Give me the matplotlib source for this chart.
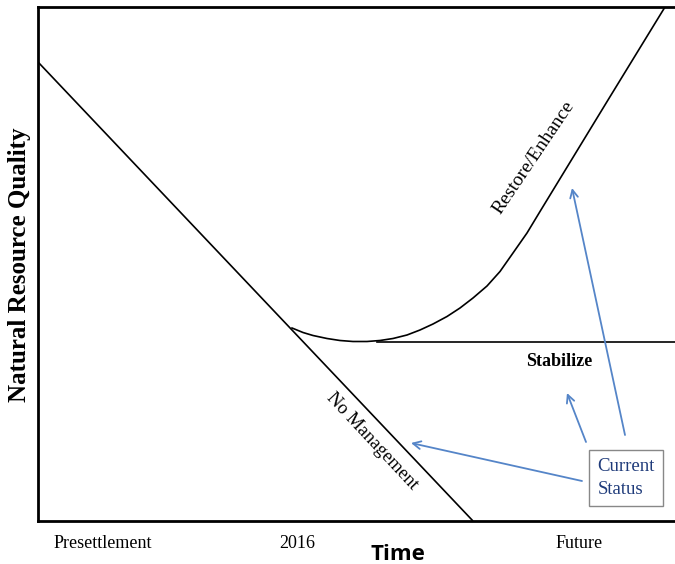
import matplotlib
matplotlib.use('Agg')
from matplotlib import pyplot as plt

# schematic drawn in image-like units (x right, y down)
no_mgmt_x = [38, 473]
no_mgmt_y = [62, 521]

restore_x = [292, 303, 313, 327, 340, 353, 367, 380, 393, 407, 420, 433, 447,
             460, 473, 487, 500, 513, 527, 540, 608, 665]
restore_y = [328, 332.5, 335.5, 338.5, 340.5, 341.5, 341.5, 340.5, 338.5, 335,
             330, 324, 316.5, 308, 298, 286, 271.5, 253, 233, 211.5, 100, 7]

stable_x = [377, 675]
stable_y = [342, 342]

tick_pos = [103, 297, 579]
tick_labels = ['Presettlement', '2016', 'Future']

# arrows from the Current Status box: (tail, head)
arrow_tails = [(582, 481), (586, 442), (625, 435)]
arrow_heads = [(411, 443), (567, 393), (572, 188)]

serif = 'Liberation Serif'
blue = '#5585c8'

fig = plt.figure(figsize=(6.75, 5.64), dpi=100)
ax = fig.add_axes([38/675, 43/564, 1 - 38/675, (521-7)/564])
ax.set_xlim(38, 675)
ax.set_ylim(521, 7)

ax.plot(no_mgmt_x, no_mgmt_y, color='black', lw=1.2, solid_capstyle='butt')
ax.plot(restore_x, restore_y, color='black', lw=1.2, solid_joinstyle='round')
ax.plot(stable_x, stable_y, color='black', lw=1.2)

for (tx, ty), (hx, hy) in zip(arrow_tails, arrow_heads):
    ax.annotate('', xy=(hx, hy), xytext=(tx, ty),
                arrowprops=dict(arrowstyle='->', color=blue, lw=1.3,
                                mutation_scale=14, shrinkA=0, shrinkB=0))

ax.text(626, 478, 'Current\nStatus', family=serif, fontsize=13.5, color='#1f3b7a',
        ha='center', va='center', multialignment='left', linespacing=1.4,
        bbox=dict(boxstyle='square,pad=0.45', fc='white', ec='#888888', lw=1))

ax.text(534, 158, 'Restore/Enhance', family=serif, fontsize=14, rotation=56,
        ha='center', va='center', rotation_mode='anchor')
ax.text(559, 362, 'Stabilize', family=serif, fontsize=13, fontweight='bold',
        ha='center', va='center')
ax.text(372, 441, 'No Management', family=serif, fontsize=13.5, rotation=-47,
        ha='center', va='center', rotation_mode='anchor')

ax.set_xticks(tick_pos)
ax.set_xticklabels(tick_labels, family=serif, fontsize=13)
ax.tick_params(axis='x', length=0, pad=10)
ax.set_yticks([])

for s in ['left', 'bottom', 'top']:
    ax.spines[s].set_linewidth(2)
ax.spines['right'].set_visible(False)

ax.text(398, 554, 'Time', family='Open Sans', fontsize=16, fontweight='bold',
        ha='center', va='center', clip_on=False)
fig.text(20/675, 1 - 265/564, 'Natural Resource Quality', family=serif,
         fontsize=18, fontweight='bold', rotation=90, ha='center', va='center')

plt.savefig('out.png', dpi=100)
